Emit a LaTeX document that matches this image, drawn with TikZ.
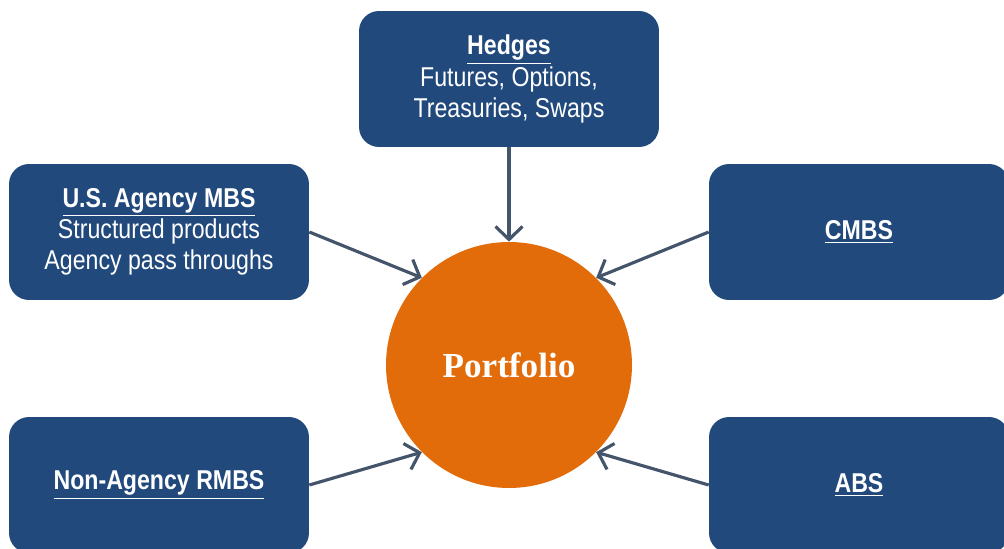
\documentclass[tikz,border=0pt]{standalone}
\usepackage{fontspec}
\setmainfont{Liberation Sans}[FakeStretch=0.85]
\newfontfamily\hubfont{Liberation Serif}
\usetikzlibrary{arrows.meta}
\definecolor{boxblue}{HTML}{21497C}
\definecolor{huborange}{HTML}{E36C0A}
\definecolor{feedgray}{HTML}{44546A}
\tikzset{
  sector/.style={fill=boxblue, rounded corners=0.4cm, minimum width=6cm, minimum height=2.72cm,
    text=white, align=center, font=\fontsize{15.5}{17.8}\selectfont},
  hub/.style={circle, fill=huborange, minimum size=4.92cm, text=white,
    font=\hubfont\fontsize{20}{24}\selectfont\bfseries},
  feed/.style={draw=feedgray, line width=1.8pt, -{Straight Barb[length=2.6mm,width=5.4mm]}}
}
\begin{document}
\begin{tikzpicture}[x=0.02cm, y=-0.02cm]

\useasboundingbox (0,0) rectangle (1004,548);
\clip (0,0) rectangle (1004,548);

\node [hub] (port) at (509,365) {Portfolio};

\node [sector] (hedges) at (509,79) {\textbf{\underline{Hedges}}\\Futures, Options,\\Treasuries, Swaps};
\node [sector] (agency) at (159,232) {\textbf{\underline{U.S. Agency MBS}}\\Structured products\\Agency pass throughs};
\node [sector] (cmbs) at (859,232) {\textbf{\underline{CMBS}}};
\node [sector] (rmbs) at (159,485) {\textbf{\underline{Non-Agency RMBS}}};
\node [sector] (abs) at (859,485) {\textbf{\underline{ABS}}};

\draw [feed] (hedges.south) -- (port.north);
\draw [feed] (agency.east) -- (port.135);
\draw [feed] (cmbs.west) -- (port.45);
\draw [feed] (rmbs.east) -- (port.225);
\draw [feed] (abs.west) -- (port.315);

\end{tikzpicture}
\end{document}
